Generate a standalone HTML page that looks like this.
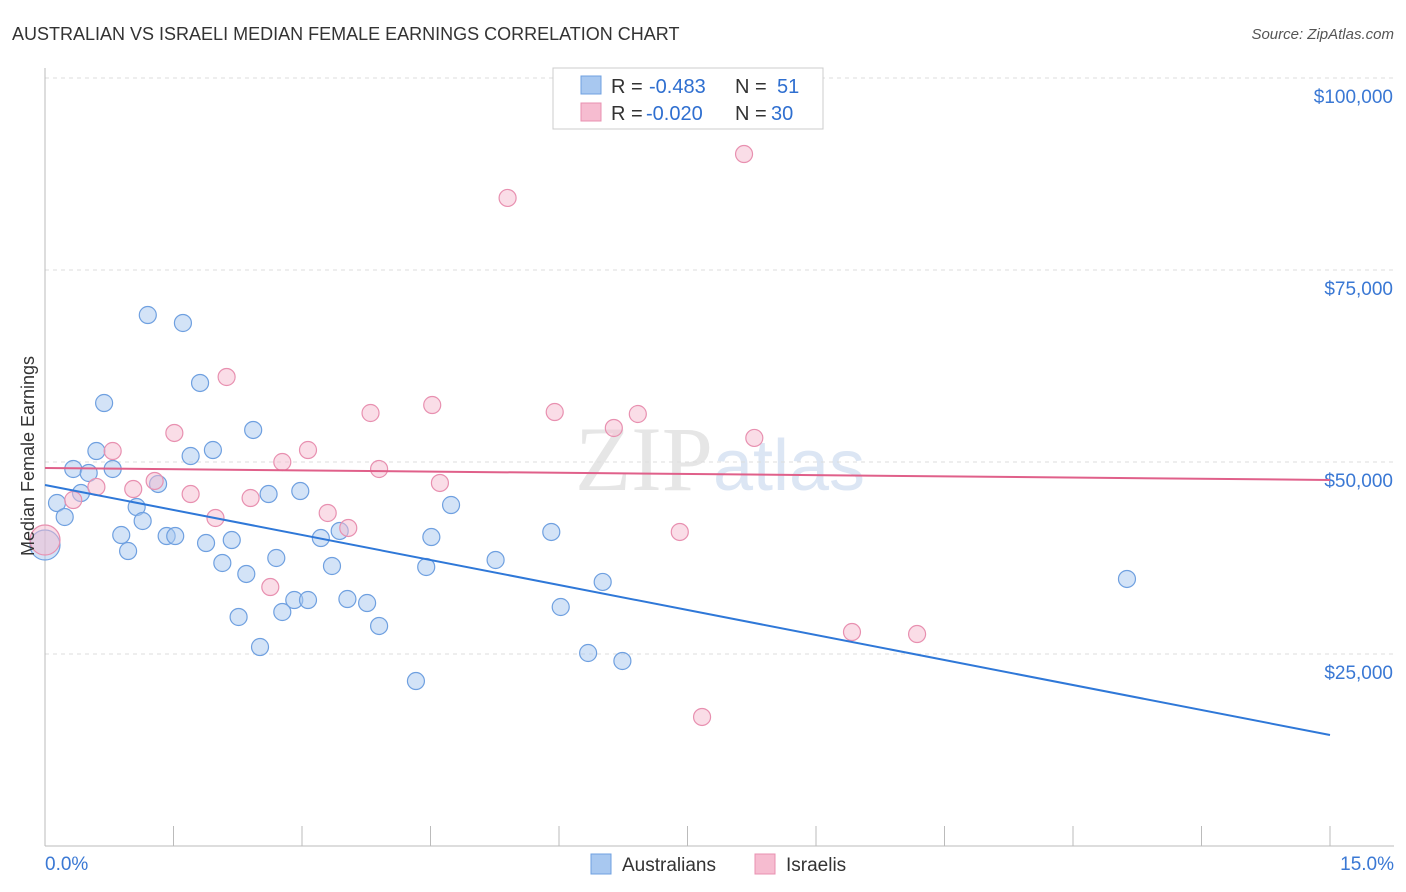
<!DOCTYPE html>
<html><head><meta charset="utf-8"><style>
body{margin:0;background:#fff;font-family:"Liberation Sans",sans-serif;}
svg{display:block}
</style></head><body>
<svg width="1406" height="892" xmlns="http://www.w3.org/2000/svg" id="chart">
<text x="12" y="40" font-size="18" fill="#333">AUSTRALIAN VS ISRAELI MEDIAN FEMALE EARNINGS CORRELATION CHART</text>
<text x="1394" y="39" font-size="15" fill="#555" text-anchor="end" font-style="italic">Source: ZipAtlas.com</text>
<text x="720" y="490" font-size="92" text-anchor="middle" fill="#e6e6e6" font-family="Liberation Serif">ZIP<tspan fill="#dce6f4" font-family="Liberation Sans" font-size="72">atlas</tspan></text>
<g id="grid"></g>
<g id="axes"></g>
<g id="marks"></g>
<text transform="translate(34,456) rotate(-90)" font-size="18" fill="#333" text-anchor="middle">Median Female Earnings</text>
<g>
<rect x="553" y="68" width="270" height="61" fill="#fff" stroke="#ccc"/>
<rect x="581" y="76" width="20" height="18" fill="#a8c8f0" stroke="#6fa0e0"/>
<text x="611" y="93" font-size="20" fill="#333">R =</text>
<text x="649" y="93" font-size="20" fill="#2f6fd0">-0.483</text>
<text x="735" y="93" font-size="20" fill="#333">N =</text>
<text x="777" y="93" font-size="20" fill="#2f6fd0">51</text>
<rect x="581" y="103" width="20" height="18" fill="#f6bcd0" stroke="#e890b0"/>
<text x="611" y="120" font-size="20" fill="#333">R =</text>
<text x="646" y="120" font-size="20" fill="#2f6fd0">-0.020</text>
<text x="735" y="120" font-size="20" fill="#333">N =</text>
<text x="771" y="120" font-size="20" fill="#2f6fd0">30</text>
</g>
<g>
<rect x="591" y="854" width="20" height="20" fill="#a8c8f0" stroke="#6fa0e0"/>
<text x="622" y="871" font-size="19" fill="#333">Australians</text>
<rect x="755" y="854" width="20" height="20" fill="#f6bcd0" stroke="#e890b0"/>
<text x="786" y="871" font-size="19" fill="#333">Israelis</text>
</g>
</svg>
<script>
const yTicks=[25000,50000,75000,100000];
const yTickLabels=["$25,000","$50,000","$75,000","$100,000"];
const ausX=[0.0,0.14,0.23,0.33,0.42,0.51,0.60,0.69,0.79,0.89,0.97,1.07,1.14,1.20,1.32,1.42,1.52,1.61,1.70,1.81,1.88,1.96,2.07,2.18,2.35,2.26,2.43,2.51,2.61,2.70,2.77,2.91,2.98,3.07,3.22,3.35,3.44,3.53,3.76,3.90,4.33,4.45,4.51,4.74,5.26,5.91,6.02,6.34,6.51,6.74,12.63];
const ausY=[39190,44660,42840,49090,45960,48570,51430,57680,49090,40490,38410,44140,42320,69140,47140,40360,40360,68100,50780,60290,39450,51560,36850,39840,35420,29820,54170,25910,45830,37500,30470,32030,46220,32030,40100,36460,41020,32160,31640,28650,21480,36330,40230,44400,37240,40890,31120,25130,34380,24090,34770];
const isrX=[0.0,0.33,0.60,0.79,1.03,1.28,1.51,1.70,1.99,2.12,2.40,2.63,2.77,3.07,3.30,3.54,3.80,3.90,4.52,4.61,5.40,5.95,6.64,6.92,7.41,7.67,8.16,8.28,9.42,10.18];
const isrY=[39840,45050,46750,51430,46480,47530,53780,45830,42710,61070,45310,33720,50000,51560,43360,41410,56380,49090,57420,47270,84380,56510,54430,56250,40890,16800,90100,53130,27860,27600];
const ausTrend=[47010,14450];
const isrTrend=[49220,47660];
const NS="http://www.w3.org/2000/svg";
const X=v=>45+v/15*1285;
const Y=v=>846-v/25000*192;
function mk(t,a,p){const e=document.createElementNS(NS,t);for(const k in a)e.setAttribute(k,a[k]);p.appendChild(e);return e;}
const grid=document.getElementById('grid'),axes=document.getElementById('axes'),marks=document.getElementById('marks');
yTicks.forEach((t,i)=>{
 const l=mk('line',{x1:45,x2:1394,y1:Y(t),y2:Y(t),stroke:'#ddd','stroke-dasharray':'4,4'},grid);
 
 
 const tx=mk('text',{x:1393,y:Y(t)+25,'font-size':19,fill:'#3a78d4','text-anchor':'end'},axes);
 tx.textContent=yTickLabels[i];
 
 
});
mk('line',{x1:45,x2:45,y1:68,y2:846,stroke:'#bbb'},axes);
mk('line',{x1:45,x2:1394,y1:846,y2:846,stroke:'#bbb'},axes);
for(let i=1;i<=10;i++){const t=mk('line',{x1:X(i*1.5),x2:X(i*1.5),y1:826,y2:846,stroke:'#bbb'},axes);
 
 }
const x0=mk('text',{x:45,y:870,'font-size':19,fill:'#3a78d4'},axes);x0.textContent='0.0%';


const x1=mk('text',{x:1394,y:870,'font-size':19,fill:'#3a78d4','text-anchor':'end'},axes);x1.textContent='15.0%';


function pts(xs,ys,fill,stroke,name){xs.forEach((x,i)=>{
 const c=mk('circle',{cx:X(x),cy:Y(ys[i]),r:i==0?15:8.5,fill:fill,'fill-opacity':0.5,stroke:stroke,'stroke-width':1.2},marks);
 
 });}
pts(ausX,ausY,'#a8c8f0','#6fa0e0','australian-point');
pts(isrX,isrY,'#f6bcd0','#e890b0','israeli-point');
const bl=mk('line',{x1:X(0),y1:Y(ausTrend[0]),x2:X(15),y2:Y(ausTrend[1]),stroke:'#2f78d8','stroke-width':2},marks);


const pl=mk('line',{x1:X(0),y1:Y(isrTrend[0]),x2:X(15),y2:Y(isrTrend[1]),stroke:'#e0608a','stroke-width':2},marks);


</script>
</body></html>
